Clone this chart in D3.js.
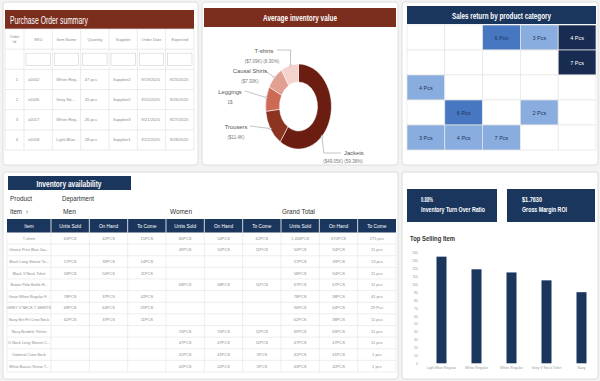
<!DOCTYPE html>
<html><head><meta charset="utf-8">
<script src="https://cdn.jsdelivr.net/npm/d3@7"></script>
<style>
body{margin:0;background:#f3f3f3}
svg{display:block}
text{font-family:"Liberation Sans Narrow","Arial Narrow","Liberation Sans",sans-serif}
</style>
</head><body><svg id="c" width="600" height="381"></svg>
<script>
// ---------------- DATA ----------------
const poHeaders = ["Order Id","SKU","Item Name","Quantity","Supplier","Order Date","Expected"];
const poOrderIds = ["1","2","3","4"];
const poSkus = ["s0002","s0005","s0017","s0018"];
const poItems = ["White Reg...","Grey Ne...","White Reg...","Light Blue..."];
const poQty = ["47 pcs","25 pcs","26 pcs","28 pcs"];
const poSuppliers = ["Supplier2","Supplier2","Supplier3","Supplier1"];
const poOrderDates = ["9/19/2020","9/20/2020","9/21/2020","9/22/2020"];
const poExpected = ["9/25/2020","9/26/2020","9/27/2020","9/28/2020"];

const invCategories = ["Jackets","Trousers","Leggings","Causal Shirts","T-shirts"];
const invValues = [49.05, 11.4, 7.76, 7.30, 7.09];
const invLabels = ["($49.05K) (59.38%)","($11.4K)","1$","($7.30K)","($7.09K) (8.30%)"];

const returnValues = [
  [null,null,6,3,4],
  [null,null,null,null,7],
  [4,null,null,null,null],
  [null,6,null,2,null],
  [3,4,7,null,null]
];
const returnShade = [
  [0,0,2,1,3],
  [0,0,0,0,3],
  [1,0,0,0,0],
  [0,2,0,1,0],
  [1,1,1,0,0]
];

const deptNames = ["Men","Women","Grand Total"];
const measureNames = ["Units Sold","On Hand","To Come"];
const availItems = ["T-shirts","Unnice Print Blue Jea...","Black Long Sleeve Te...","Black V Neck Tshirt","Brown Polo Buttle H...","Gean White Regular F...","GREY V NECK T-SHIRTS","Navy Brit Fit Crew Neck","Navy Bredele Tshirts","O-Neck Long Sleeve C...","Oatmeal Crew Neck","White Basuci Strewi T..."];
const menUnitsSold = ["63PCS","","57PCS","58PCS","","78PCS","68PCS","62PCS","","","",""];
const menOnHand    = ["42PCS","","39PCS","50PCS","","37PCS","64PCS","37PCS","","","",""];
const menToCome    = ["15PCS","","14PCS","11PCS","","42PCS","29PCS","11PCS","","","",""];
const womenUnitsSold = ["80PCS","49PCS","","","68PCS","","","","70PCS","47PCS","41PCS","42PCS"];
const womenOnHand    = ["54PCS","50PCS","","","68PCS","","","","70PCS","47PCS","41PCS","42PCS"];
const womenToCome    = ["62PCS","11PCS","","","11PCS","","","","11PCS","11PCS","5PCS","5PCS"];
const totalUnitsSold = ["1,436PCS","50PCS","57PCS","58PCS","67PCS","78PCS","96PCS","62PCS","69PCS","47PCS","41PCS","43PCS"];
const totalOnHand    = ["670PCS","50PCS","39PCS","50PCS","67PCS","38PCS","64PCS","38PCS","69PCS","47PCS","41PCS","42PCS"];
const totalToCome    = ["275 pcs","11 pcs","13 pcs","11 pcs","11 pcs","41 pcs","29 Pcs","11 pcs","11 pcs","11 pcs","1 pcs","1 pcs"];

const kpiValues = ["0.88%","$1.7630"];
const kpiNames = ["Inventory Turn Over Ratio","Gross Margin ROI"];

const topItems = ["Light Blue Regular","White Regular","White Regular","Grey V Neck Tshirt","Navy"];
const topValues = [135,119,115,105,90];
const topTicks = [0,10,20,30,40,50,60,70,80,90,100,110,120,130,140];

// ---------------- DRAW ----------------
const svg = d3.select("#c");
const NAVY = "#1b365d", BROWN = "#7b2d1e";
const GRID = "#e2e2e2", TXT = "#8c8c8c";
const fit = (sel,w) => sel.attr("textLength",w).attr("lengthAdjust","spacingAndGlyphs");

// cards
const cards = [[3,2,195,163],[202,2,196,163],[402,2,196,163],[3,172,395,207],[402,172,196,207]];
svg.selectAll("rect.card").data(cards).join("rect").attr("class","card")
  .attr("x",d=>d[0]).attr("y",d=>d[1]).attr("width",d=>d[2]).attr("height",d=>d[3])
  .attr("rx",3).attr("fill","#fff").attr("stroke","#d6d6d6").attr("stroke-width",0.8);

// ===== Purchase Order summary =====
const po = svg.append("g");
po.append("rect").attr("x",5).attr("y",10).attr("width",189).attr("height",19).attr("fill",BROWN);
fit(po.append("text").attr("x",10).attr("y",23.5).attr("fill","#fff").attr("font-size",10.5).text("Purchase Order summary"),78);
const poX0 = 5, poX1 = 24, poXEnd = 194;
const poColX = d3.scaleBand().domain(d3.range(1,7)).range([poX1,poXEnd]);
const colLeft = i => i===0 ? poX0 : poColX(i);
const colW = i => i===0 ? poX1-poX0 : poColX.bandwidth();
const poRowY = d3.scaleBand().domain(d3.range(6)).range([29,150]);
d3.range(8).forEach(i=>{
  const x = i===0?poX0:(i===1?poX1:poColX(i-1)+poColX.bandwidth());
  po.append("line").attr("x1",x).attr("x2",x).attr("y1",29).attr("y2",150).attr("stroke",GRID).attr("stroke-width",0.7);
});
d3.range(7).forEach(r=>{
  const y = r<6?poRowY(r):150;
  po.append("line").attr("x1",poX0).attr("x2",poXEnd).attr("y1",y).attr("y2",y).attr("stroke",GRID).attr("stroke-width",0.7);
});
poHeaders.forEach((h,i)=>{
  const cx = colLeft(i)+colW(i)/2, y = poRowY(0)+poRowY.bandwidth()/2;
  if(i===0){
    po.append("text").attr("x",cx).attr("y",y-1).attr("text-anchor","middle").attr("font-size",4).attr("fill",TXT).text("Order");
    po.append("text").attr("x",cx).attr("y",y+4).attr("text-anchor","middle").attr("font-size",4).attr("fill",TXT).text("Id");
  } else {
    po.append("text").attr("x",cx).attr("y",y+1.5).attr("text-anchor","middle").attr("font-size",4).attr("fill",TXT).text(h);
  }
});
d3.range(1,7).forEach(i=>{
  po.append("rect").attr("x",colLeft(i)+2).attr("y",poRowY(1)+4).attr("width",colW(i)-4).attr("height",poRowY.bandwidth()-8)
    .attr("fill","#fff").attr("stroke","#d0d0d0").attr("stroke-width",0.6);
});
const poCols = [poOrderIds,poSkus,poItems,poQty,poSuppliers,poOrderDates,poExpected];
poOrderIds.forEach((_,r)=>{
  const y = poRowY(r+2)+poRowY.bandwidth()/2+1.5;
  poCols.forEach((col,i)=>{
    po.append("text").attr("x", i===0? colLeft(0)+colW(0)-6 : colLeft(i)+4).attr("y",y)
      .attr("text-anchor", i===0?"end":"start").attr("font-size",4.2).attr("fill",TXT).text(col[r]);
  });
});

// ===== Average inventory value =====
const av = svg.append("g");
av.append("rect").attr("x",204).attr("y",8).attr("width",192).attr("height",19).attr("fill",BROWN);
fit(av.append("text").attr("x",300).attr("y",20.5).attr("text-anchor","middle").attr("fill","#fff").attr("font-size",8.5).attr("font-weight","bold").text("Average inventory value"),74);
const cx = 298.5, cy = 106.5, R = 42.5, r0 = 24.5, sx = 0.775;
const pie = d3.pie().sort(null).value(d=>d)(invValues);
const arc = d3.arc().innerRadius(r0).outerRadius(R);
const invColors = ["#6b1d12","#8c3321","#cd6a55","#e2a092","#f3d3cb"];
const dg = av.append("g").attr("transform",`translate(${cx},${cy}) scale(${sx},1)`);
dg.selectAll("path").data(pie).join("path").attr("d",arc).attr("fill",(d,i)=>invColors[i]).attr("stroke","#fff").attr("stroke-width",0.6);
const anchorFrac = [0.63,0.5,0.55,0.5,0.55];
const ptOn = (d,i) => {
  const a = d.startAngle + (d.endAngle-d.startAngle)*anchorFrac[i];
  return [cx + Math.sin(a)*R*sx, cy - Math.cos(a)*R];
};
const labelPos = [
  [344,154,"start",341],
  [248,128,"end",250],
  [242,93,"end",245],
  [262,72,"end",264],
  [275,52,"end",277]
];
pie.forEach((d,i)=>{
  const p = ptOn(d,i), L = labelPos[i];
  let pts;
  if(i===0) pts = [p,[p[0]+2,L[1]-1],[L[3],L[1]-1]];
  else if(i===4) pts = [p,[p[0],L[1]-2],[L[3],L[1]-2]];
  else pts = [p,[L[3],L[1]-2]];
  av.append("polyline").attr("points",pts.map(q=>q.join(",")).join(" ")).attr("fill","none").attr("stroke","#9a9a9a").attr("stroke-width",0.6);
  av.append("circle").attr("cx",p[0]).attr("cy",p[1]).attr("r",1).attr("fill","#fff").attr("stroke","#9a9a9a").attr("stroke-width",0.5);
  const tx = L[0];
  if(i===0){
    av.append("text").attr("x",tx).attr("y",L[1]+1).attr("font-size",5.8).attr("fill","#555").text(invCategories[i]);
    av.append("text").attr("x",343).attr("y",L[1]+9).attr("text-anchor","middle").attr("font-size",4.5).attr("fill","#777").text(invLabels[i]);
  } else {
    const mid = i===4 ? 262 : (tx - 12);
    av.append("text").attr("x",i===4?264:mid).attr("y",L[1]+1).attr("text-anchor","middle").attr("font-size",5.8).attr("fill","#555").text(invCategories[i]);
    av.append("text").attr("x",i===4?262:mid).attr("y",L[1]+11).attr("text-anchor","middle").attr("font-size",4.5).attr("fill","#777").text(invLabels[i]);
  }
});

// ===== Sales return by product category =====
const sr = svg.append("g");
sr.append("rect").attr("x",407).attr("y",6).attr("width",189).attr("height",18).attr("fill",NAVY);
fit(sr.append("text").attr("x",501.5).attr("y",19).attr("text-anchor","middle").attr("fill","#fff").attr("font-size",9).attr("font-weight","bold").text("Sales return by product category"),99);
const hx = d3.scaleBand().domain(d3.range(5)).range([407,596]);
const hy = d3.scaleBand().domain(d3.range(5)).range([25,150]);
const shadeColors = ["#ffffff","#8aaddf","#4777c1","#172c50"];
const cells = [];
returnValues.forEach((row,r)=>row.forEach((v,c)=>cells.push({r,c,v,s:returnShade[r][c]})));
sr.selectAll("rect.cell").data(cells).join("rect").attr("class","cell")
  .attr("x",d=>hx(d.c)).attr("y",d=>hy(d.r)).attr("width",hx.bandwidth()).attr("height",hy.bandwidth())
  .attr("fill",d=>shadeColors[d.s]).attr("stroke","#e6e6e6").attr("stroke-width",0.7);
sr.selectAll("text.cell").data(cells.filter(d=>d.v!=null)).join("text").attr("class","cell")
  .attr("x",d=>hx(d.c)+hx.bandwidth()/2).attr("y",d=>hy(d.r)+hy.bandwidth()/2+2)
  .attr("text-anchor","middle").attr("font-size",5.5)
  .attr("fill",d=>d.s===3?"#fff":"#1d3560").text(d=>d.v+" Pcs");

// ===== Inventory availability =====
const ia = svg.append("g");
ia.append("rect").attr("x",8).attr("y",176).attr("width",123).attr("height",14).attr("fill",NAVY);
fit(ia.append("text").attr("x",69).attr("y",186.5).attr("text-anchor","middle").attr("fill","#fff").attr("font-size",9).attr("font-weight","bold").text("Inventory availability"),65);
fit(ia.append("text").attr("x",10).attr("y",201).attr("font-size",8).attr("fill","#333").text("Product"),22);
fit(ia.append("text").attr("x",62).attr("y",201).attr("font-size",8).attr("fill","#333").text("Department"),32);
fit(ia.append("text").attr("x",10).attr("y",214).attr("font-size",8).attr("fill","#333").text("Item"),12);
ia.append("text").attr("x",25.5).attr("y",214).attr("font-size",6).attr("fill","#333").text("\u2191");
const deptX = [63,170,282], deptW = [13,22,33];
deptNames.forEach((d,i)=>fit(ia.append("text").attr("x",deptX[i]).attr("y",214).attr("font-size",8).attr("fill","#333").text(d),deptW[i]));
const itemX0 = 7, itemX1 = 51, tX1 = 396;
const tx = d3.scaleBand().domain(d3.range(9)).range([itemX1,tX1]);
const ty = d3.scaleBand().domain(d3.range(availItems.length)).range([232.5,372]);
ia.append("rect").attr("x",itemX0).attr("y",219).attr("width",tX1-itemX0).attr("height",13.5).attr("fill",NAVY);
ia.append("text").attr("x",(itemX0+itemX1)/2).attr("y",227.5).attr("text-anchor","middle").attr("font-size",4.8).attr("fill","#fff").text("Item");
d3.range(9).forEach(j=>{
  ia.append("line").attr("x1",tx(j)).attr("x2",tx(j)).attr("y1",219).attr("y2",232.5).attr("stroke","#fff").attr("stroke-width",0.8);
  ia.append("text").attr("x",tx(j)+tx.bandwidth()/2).attr("y",227.5).attr("text-anchor","middle").attr("font-size",4.8).attr("fill","#fff").text(measureNames[j%3]);
});
availItems.forEach((_,r)=>{
  ia.append("line").attr("x1",itemX0).attr("x2",tX1).attr("y1",ty(r)+ty.bandwidth()).attr("y2",ty(r)+ty.bandwidth()).attr("stroke",GRID).attr("stroke-width",0.6);
});
[itemX0,...d3.range(9).map(j=>tx(j)),tX1].forEach(x=>{
  ia.append("line").attr("x1",x).attr("x2",x).attr("y1",232.5).attr("y2",372).attr("stroke",GRID).attr("stroke-width",0.6);
});
const availCols = [menUnitsSold,menOnHand,menToCome,womenUnitsSold,womenOnHand,womenToCome,totalUnitsSold,totalOnHand,totalToCome];
availItems.forEach((it,r)=>{
  const y = ty(r)+ty.bandwidth()/2+1.4;
  ia.append("text").attr("x",(itemX0+itemX1)/2).attr("y",y).attr("text-anchor","middle").attr("font-size",3.8).attr("fill",TXT).text(it);
  availCols.forEach((col,j)=>{
    if(col[r]) ia.append("text").attr("x",tx(j)+tx.bandwidth()/2).attr("y",y).attr("text-anchor","middle").attr("font-size",4).attr("fill",TXT).text(col[r]);
  });
});

// ===== KPIs & Top Selling =====
const kp = svg.append("g");
const kpiBox = [[407,189,90,33],[507,189,88,33]];
const kpiTx = [421,522];
const kpiVW = [12,20], kpiNW = [64,45];
kpiBox.forEach((b,i)=>{
  kp.append("rect").attr("x",b[0]).attr("y",b[1]).attr("width",b[2]).attr("height",b[3]).attr("fill",NAVY);
  fit(kp.append("text").attr("x",kpiTx[i]).attr("y",202).attr("font-size",6.5).attr("font-weight","bold").attr("fill","#fff").text(kpiValues[i]),kpiVW[i]);
  fit(kp.append("text").attr("x",kpiTx[i]).attr("y",212).attr("font-size",6.5).attr("font-weight","bold").attr("fill","#fff").text(kpiNames[i]),kpiNW[i]);
});
fit(kp.append("text").attr("x",410).attr("y",241).attr("font-size",8).attr("font-weight","bold").attr("fill","#333").text("Top Selling Item"),45);
const bx = d3.scaleBand().domain(d3.range(topItems.length)).range([424,599]).paddingInner(0.714).paddingOuter(0.357);
const by = d3.scaleLinear().domain([0,140]).range([363.3,252.7]);
const yAxis = d3.axisLeft(by).tickValues(topTicks).tickSize(0).tickPadding(2);
const ya = kp.append("g").attr("transform","translate(420,0)").call(yAxis);
ya.select(".domain").remove();
ya.selectAll("text").attr("font-size",3.5).attr("fill","#999").attr("font-family","Liberation Sans Narrow, Liberation Sans, sans-serif");
kp.selectAll("rect.bar").data(topValues).join("rect").attr("class","bar")
  .attr("x",(d,i)=>bx(i)).attr("width",bx.bandwidth()).attr("y",d=>by(d)).attr("height",d=>by(0)-by(d)).attr("fill",NAVY);
const xAxis = d3.axisBottom(bx).tickFormat(i=>topItems[i]).tickSize(0).tickPadding(3);
const xa = kp.append("g").attr("transform",`translate(0,${by(0)})`).call(xAxis);
xa.select(".domain").remove();
xa.selectAll("text").attr("font-size",3.6).attr("fill","#999").attr("font-family","Liberation Sans Narrow, Liberation Sans, sans-serif");
</script>
</body></html>
